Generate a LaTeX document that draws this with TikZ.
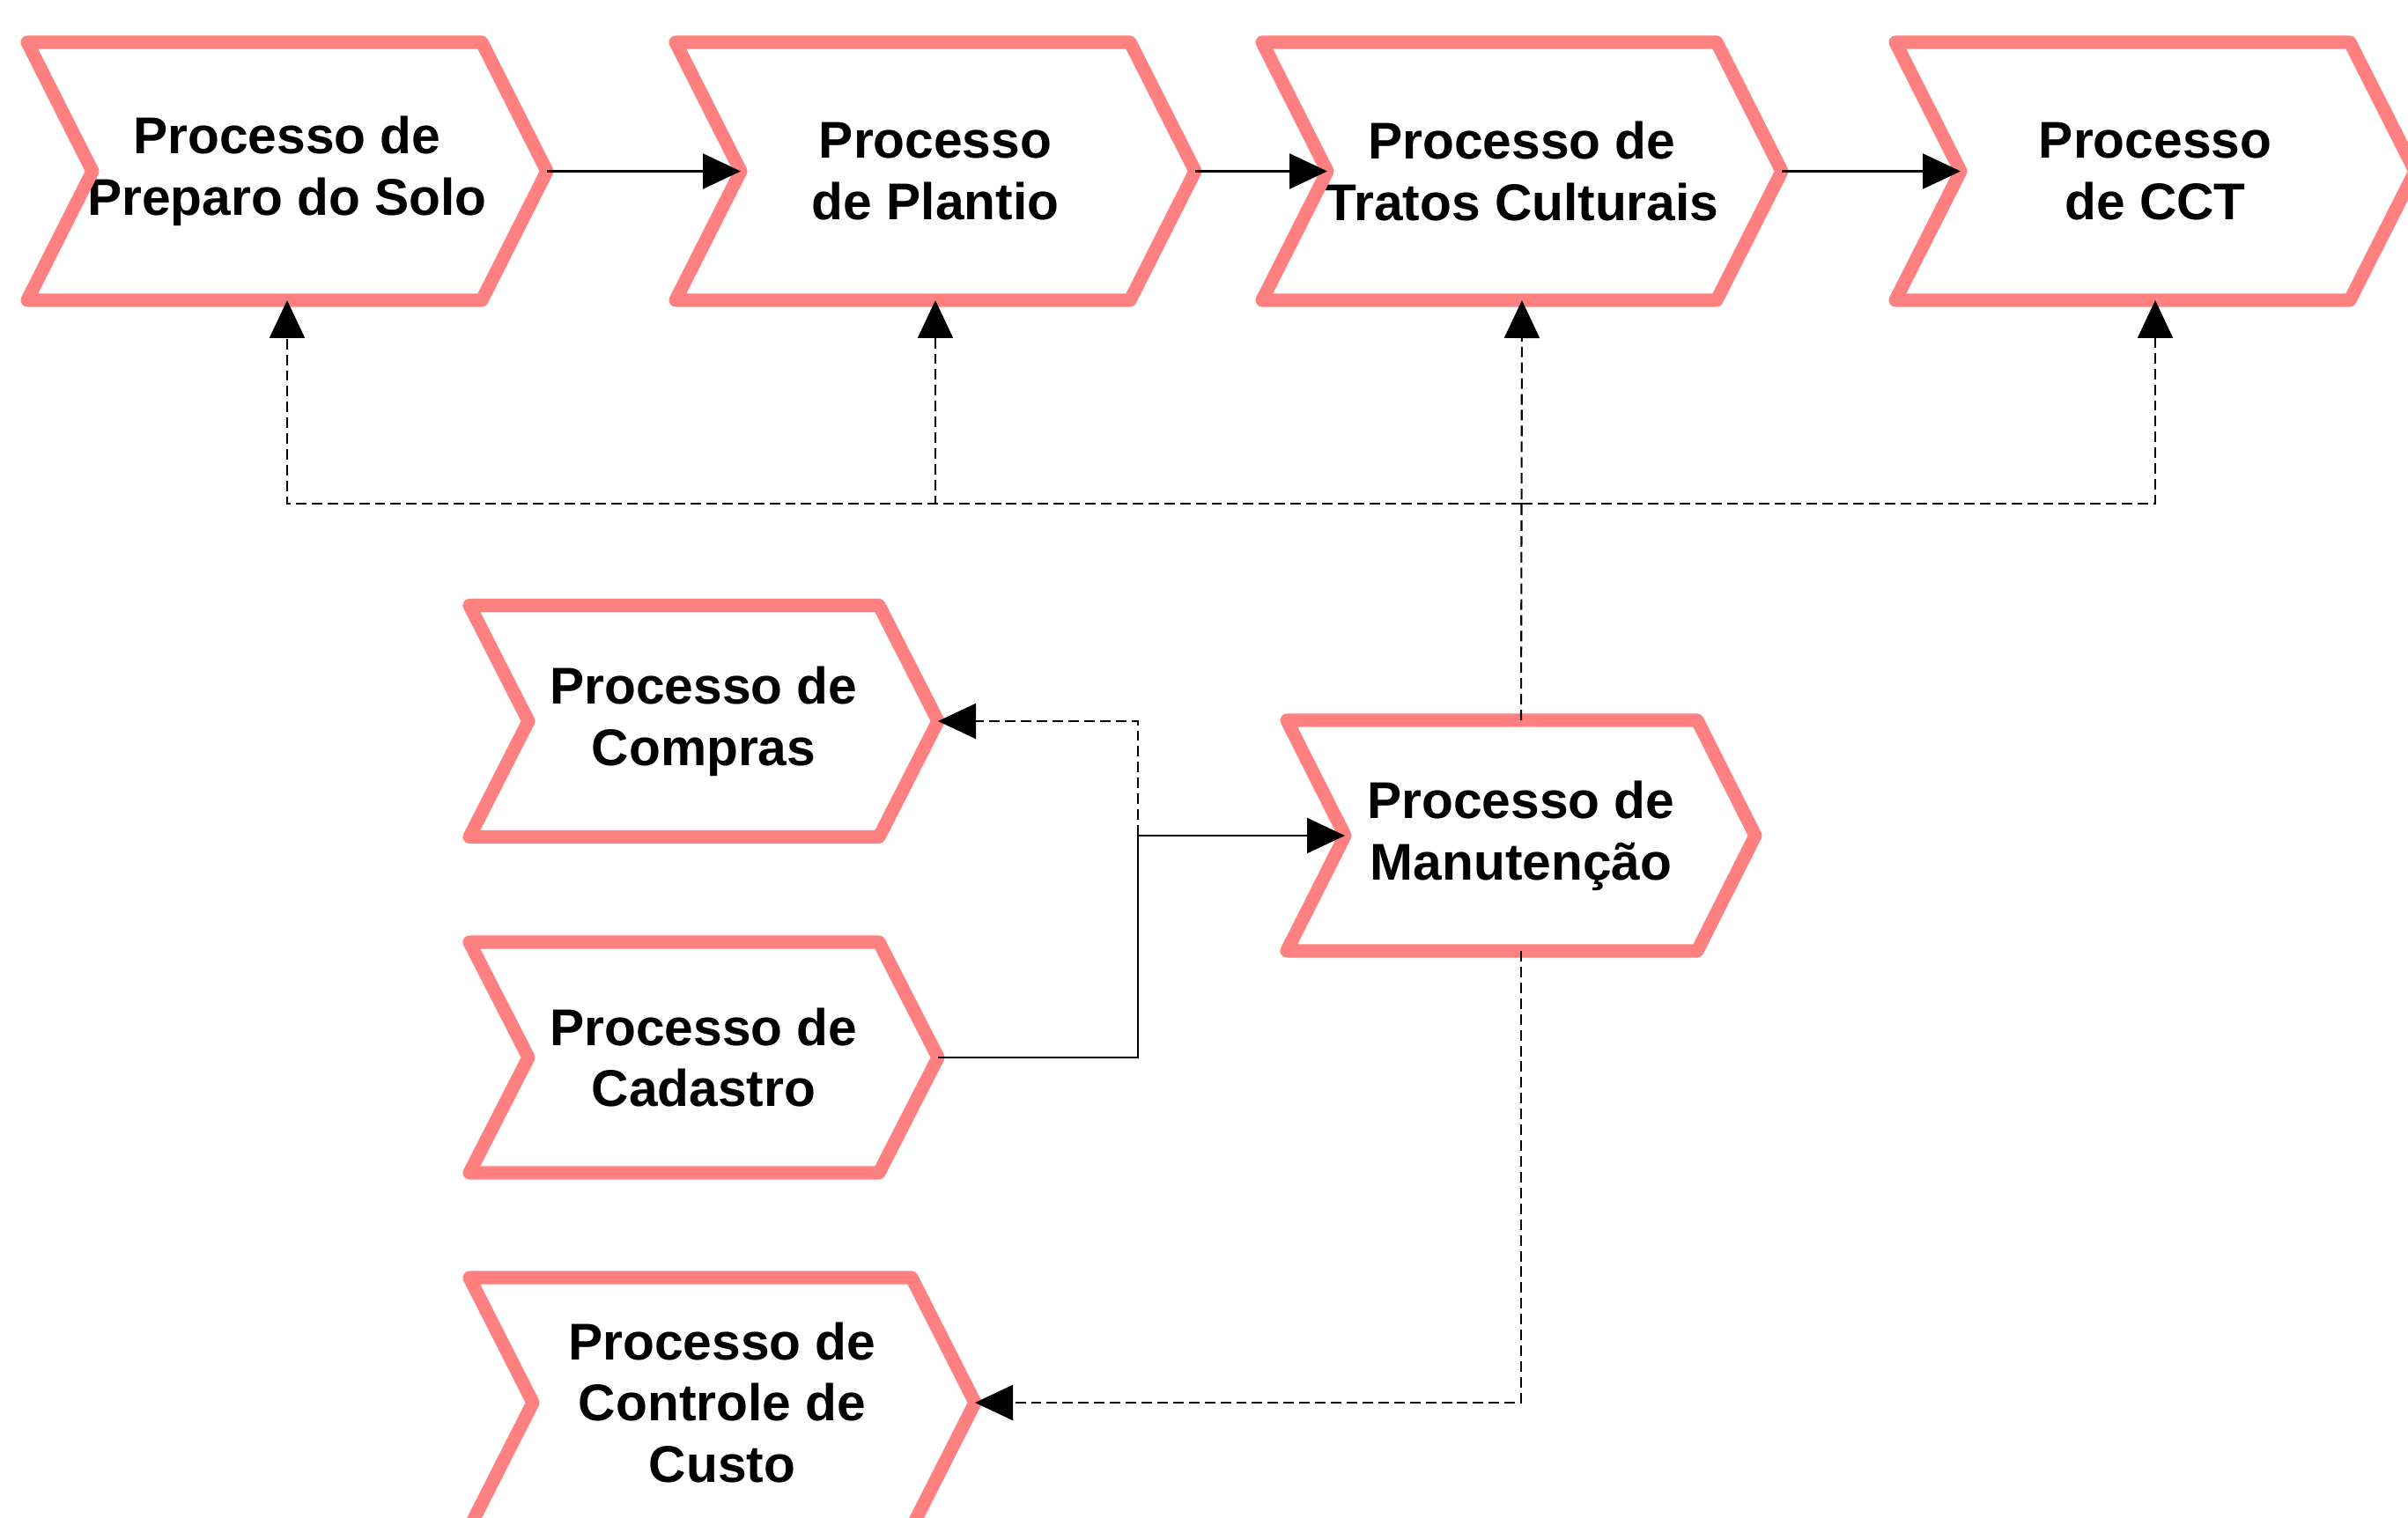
\documentclass[tikz,border=0pt]{standalone}
\usepackage{fontspec}
\setmainfont{Liberation Sans}
\usetikzlibrary{arrows.meta,calc}
\definecolor{procpink}{RGB}{255,128,128}

\begin{document}
\begin{tikzpicture}[
  proc/.style={inner sep=0pt, outer sep=0pt, align=center,
    font=\fontsize{16.7}{19.9}\selectfont\bfseries},
  chev/.style={draw=procpink, line width=4.3pt, line join=round},
  flow/.style={line width=0.6pt, -{Triangle[length=4.3mm,width=4mm]}},
  dashflow/.style={flow, dash pattern=on 3.4pt off 1.7pt}
]

  \useasboundingbox (0,0) rectangle (27.34,-17.24);

  % Main chain
  \node[proc, minimum width=5.9cm, minimum height=2.93cm] (solo) at (3.26,-1.945) {Processo de\\Preparo do Solo};
  \node[proc, minimum width=5.9cm, minimum height=2.93cm] (plantio) at (10.62,-1.945) {Processo\\de Plantio};
  \node[proc, minimum width=5.9cm, minimum height=2.93cm] (tratos) at (17.28,-1.945) {Processo de\\Tratos Culturais};
  \node[proc, minimum width=5.9cm, minimum height=2.93cm] (cct) at (24.47,-1.945) {Processo\\de CCT};

  % Support processes
  \node[proc, minimum width=5.32cm, minimum height=2.63cm] (compras) at (7.99,-8.19) {Processo de\\Compras};
  \node[proc, minimum width=5.32cm, minimum height=2.62cm] (cadastro) at (7.99,-12.01) {Processo de\\Cadastro};
  \node[proc, minimum width=5.32cm, minimum height=2.62cm] (manut) at (17.27,-9.49) {Processo de\\Manutenção};
  \node[proc, minimum width=5.74cm, minimum height=2.84cm] (custo) at (8.20,-15.93) {Processo de\\Controle de\\Custo};

  % Chevron outlines
  \foreach \nd/\dd in {solo/0.74, plantio/0.74, tratos/0.74, cct/0.74,
                       compras/0.67, cadastro/0.67, manut/0.66, custo/0.72}
    \draw[chev] (\nd.north west) -- ($(\nd.north east)+(-\dd,0)$) -- (\nd.east)
      -- ($(\nd.south east)+(-\dd,0)$) -- (\nd.south west) -- ($(\nd.west)+(\dd,0)$) -- cycle;

  % Sequence arrows
  \draw[flow] (solo.east) -- ($(plantio.west)+(0.74,0)$);
  \draw[flow] (plantio.east) -- ($(tratos.west)+(0.74,0)$);
  \draw[flow] (tratos.east) -- ($(cct.west)+(0.74,0)$);

  % Maintenance feeds every main process
  \coordinate (hub) at (17.28,-5.72);
  \draw[dashflow] (manut.north) -- (tratos.south);
  \draw[dashflow] (hub) -| (solo.south);
  \draw[dashflow] (hub) -| (plantio.south);
  \draw[dashflow] (hub) -| (cct.south);

  % Inputs to maintenance
  \coordinate (junc) at (12.92,-9.49);
  \draw[flow] (cadastro.east) -| (junc) -- ($(manut.west)+(0.66,0)$);
  \draw[dashflow] (junc) |- (compras.east);

  % Cost control
  \draw[dashflow] (manut.south) |- (custo.east);

\end{tikzpicture}
\end{document}
